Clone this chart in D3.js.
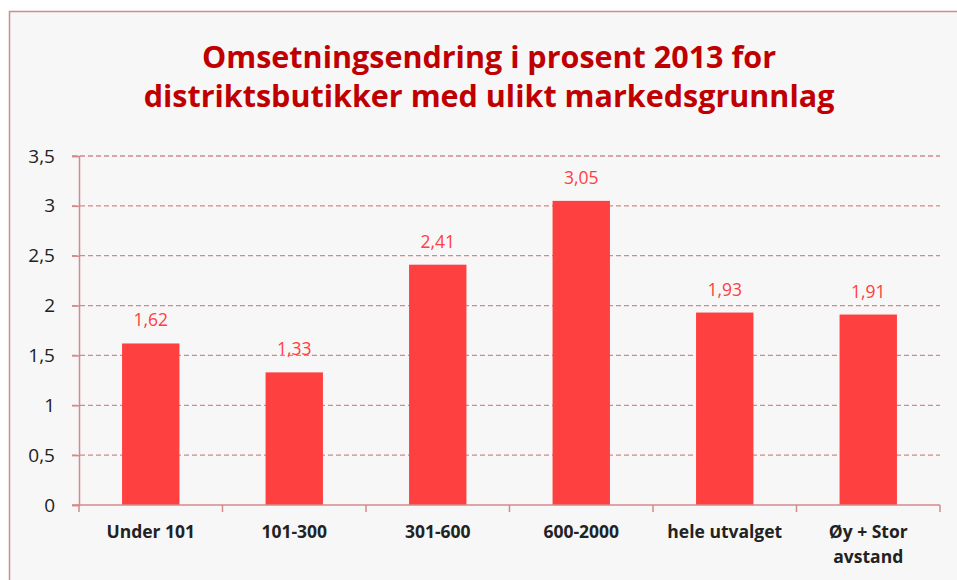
<!DOCTYPE html>
<html><head><meta charset="utf-8">
<script src="https://cdn.jsdelivr.net/npm/d3@7/dist/d3.min.js"></script>
<style>body{margin:0;background:#fff;}svg{display:block;}</style>
</head><body>
<svg id="c" width="957" height="580"></svg>
<script>
const categories = ["Under 101", "101-300", "301-600", "600-2000", "hele utvalget", "Øy + Stor avstand"];
const values = [1.62, 1.33, 2.41, 3.05, 1.93, 1.91];
const valueLabels = ["1,62", "1,33", "2,41", "3,05", "1,93", "1,91"];
const yTicks = [0, 0.5, 1, 1.5, 2, 2.5, 3, 3.5];
const titleLines = ["Omsetningsendring i prosent 2013 for", "distriktsbutikker med ulikt markedsgrunnlag"];

const svg = d3.select("#c");
const font = "Open Sans, sans-serif";
svg.append("rect").attr("x", 9.5).attr("y", 11.5).attr("width", 960).attr("height", 600)
  .attr("fill", "#f7f7f7").attr("stroke", "#d48a8a").attr("stroke-width", 1.5);

const x = d3.scaleBand().domain(categories).range([79, 940]).paddingInner(0.6).paddingOuter(0.3);
const y = d3.scaleLinear().domain([0, 3.5]).range([505, 156]);

// title
svg.selectAll("text.title").data(titleLines).join("text")
  .attr("x", 489).attr("y", (d, i) => 68 + i * 39)
  .attr("text-anchor", "middle").attr("font-family", font).attr("font-weight", "bold")
  .attr("font-size", 30.5).attr("fill", "#c00000").text(d => d);

// gridlines
svg.selectAll("line.grid").data(yTicks.filter(d => d > 0)).join("line")
  .attr("x1", 72).attr("x2", 940).attr("y1", d => y(d)).attr("y2", d => y(d))
  .attr("stroke", "#d48a8a").attr("stroke-width", 1.3).attr("stroke-dasharray", "5,3");

// y axis
const yAxis = svg.append("g").attr("transform", "translate(79,0)")
  .call(d3.axisLeft(y).tickValues(yTicks).tickSize(7).tickPadding(17)
    .tickFormat(d => d3.format("")(d).replace(".", ",")));
yAxis.select(".domain").attr("stroke", "#d48a8a").attr("stroke-width", 1.5);
yAxis.selectAll(".tick line").attr("stroke", "#d48a8a").attr("stroke-width", 1.5);
yAxis.selectAll(".tick text").attr("font-family", font).attr("font-size", 19).attr("fill", "#222");

// bars
svg.selectAll("rect.bar").data(values).join("rect")
  .attr("x", (d, i) => x(categories[i])).attr("width", x.bandwidth())
  .attr("y", d => y(d)).attr("height", d => y(0) - y(d)).attr("fill", "#ff4040");

// value labels
svg.selectAll("text.val").data(values).join("text")
  .attr("x", (d, i) => x(categories[i]) + x.bandwidth() / 2).attr("y", d => y(d) - 17)
  .attr("text-anchor", "middle").attr("font-family", font).attr("font-size", 17.5)
  .attr("fill", "#ff4040").text((d, i) => valueLabels[i]);

// x axis
const bounds = d3.range(categories.length + 1).map(i => 79 + i * x.step() / (1) * 1);
svg.append("line").attr("x1", 72).attr("x2", 940).attr("y1", 505).attr("y2", 505)
  .attr("stroke", "#d48a8a").attr("stroke-width", 1.5);
svg.selectAll("line.xt").data(d3.range(categories.length + 1)).join("line")
  .attr("x1", i => 79 + i * (861 / categories.length)).attr("x2", i => 79 + i * (861 / categories.length))
  .attr("y1", 505).attr("y2", 512)
  .attr("stroke", "#d48a8a").attr("stroke-width", 1.5);

// category labels
categories.forEach((c, i) => {
  const lines = c === "Øy + Stor avstand" ? ["Øy + Stor", "avstand"] : [c];
  const t = svg.append("text").attr("text-anchor", "middle").attr("font-family", font)
    .attr("font-weight", "bold").attr("font-size", 17.5).attr("fill", "#222");
  lines.forEach((l, j) => t.append("tspan").attr("x", x(c) + x.bandwidth() / 2)
    .attr("y", 538 + j * 25).text(l));
});
</script>
</body></html>
